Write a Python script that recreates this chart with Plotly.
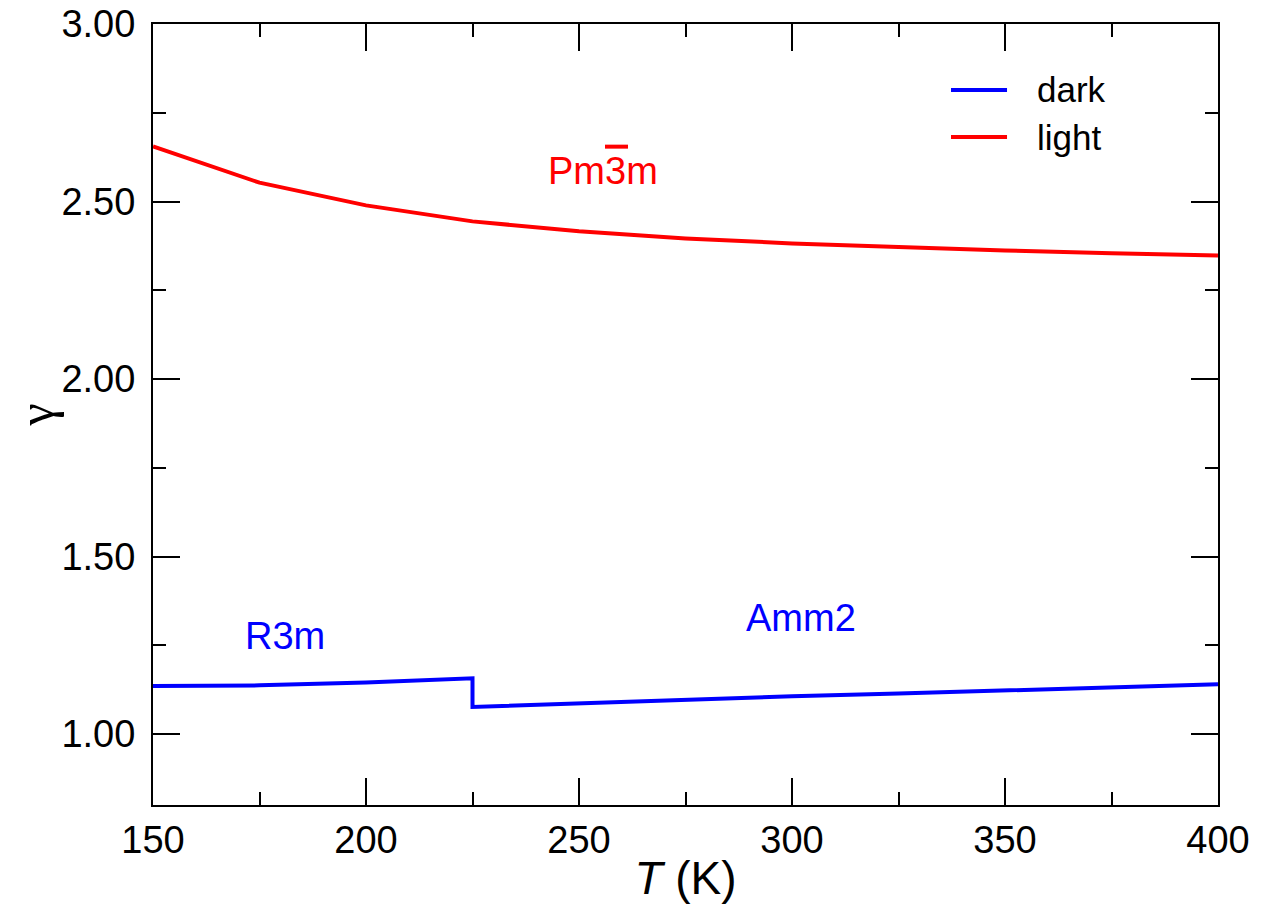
import plotly.graph_objects as go

T_light = [150, 175, 200, 225, 250, 275, 300, 325, 350, 375, 400]
g_light = [2.655, 2.553, 2.489, 2.444, 2.416, 2.396, 2.382, 2.371, 2.362, 2.354, 2.348]

T_dark = [150, 175, 200, 225, 225, 250, 275, 300, 325, 350, 375, 400]
g_dark = [1.135, 1.137, 1.145, 1.157, 1.076, 1.086, 1.097, 1.106, 1.114, 1.122, 1.131, 1.140]

series_names = ["dark", "light"]
series_colors = ["#0000ff", "#ff0000"]

phase_labels = ["R3m", "Amm2", "Pm3m"]
phase_T = [181, 302, 255.6]
phase_g = [1.275, 1.326, 2.587]
phase_colors = ["#0000ff", "#0000ff", "#ff0000"]

FONT = "Liberation Sans, Arial, Helvetica, sans-serif"

fig = go.Figure()
fig.add_trace(go.Scatter(x=T_dark, y=g_dark, mode="lines", name=series_names[0],
                         line=dict(color=series_colors[0], width=4), showlegend=False))
fig.add_trace(go.Scatter(x=T_light, y=g_light, mode="lines", name=series_names[1],
                         line=dict(color=series_colors[1], width=4), showlegend=False))

for lab, x, y, c in zip(phase_labels, phase_T, phase_g, phase_colors):
    fig.add_annotation(x=x, y=y, xref="x", yref="y", text=lab, showarrow=False,
                       font=dict(family=FONT, size=38, color=c), xanchor="center", yanchor="middle")

# overbar on the "3" of Pm-3m (space-group notation)
fig.add_shape(type="line", xref="x", yref="y", x0=256.1, x1=261.5, y0=2.6545, y1=2.6545,
              line=dict(color=phase_colors[2], width=4))

# manual legend
leg_y = [0.9155, 0.8553]
for name, c, yy in zip(series_names, series_colors, leg_y):
    fig.add_shape(type="line", xref="paper", yref="paper", x0=0.7493, x1=0.8019, y0=yy, y1=yy,
                  line=dict(color=c, width=4))
    fig.add_annotation(x=0.828, y=yy, xref="paper", yref="paper", text=name, showarrow=False,
                       font=dict(family=FONT, size=35, color="black"), xanchor="left", yanchor="middle")

axis_common = dict(
    showline=True, linecolor="black", linewidth=2, mirror="allticks",
    ticks="inside", ticklen=27, tickwidth=2, tickcolor="black",
    showgrid=False, zeroline=False, automargin=False, ticklabeloverflow="allow",
    tickfont=dict(family=FONT, size=38, color="black"),
)

fig.update_xaxes(range=[150, 400], dtick=50, tick0=150,
                 minor=dict(ticks="inside", ticklen=13, tickwidth=2, tickcolor="black", dtick=25, showgrid=False),
                 title=dict(text="<i>T</i> (K)", font=dict(family=FONT, size=46, color="black"), standoff=2),
                 ticklabelstandoff=0,
                 **axis_common)
fig.update_yaxes(range=[0.8, 3.0], dtick=0.5, tick0=1.0, tickformat=".2f",
                 minor=dict(ticks="inside", ticklen=13, tickwidth=2, tickcolor="black", dtick=0.25, showgrid=False),
                 title=dict(text="γ", font=dict(family="Liberation Serif", size=50, color="black"), standoff=10),
                 ticklabelstandoff=8,
                 **axis_common)

fig.update_layout(
    width=1260, height=907,
    margin=dict(l=145, r=50, t=16, b=110),
    plot_bgcolor="white", paper_bgcolor="white",
    showlegend=False,
)

fig.write_html("out.html")
